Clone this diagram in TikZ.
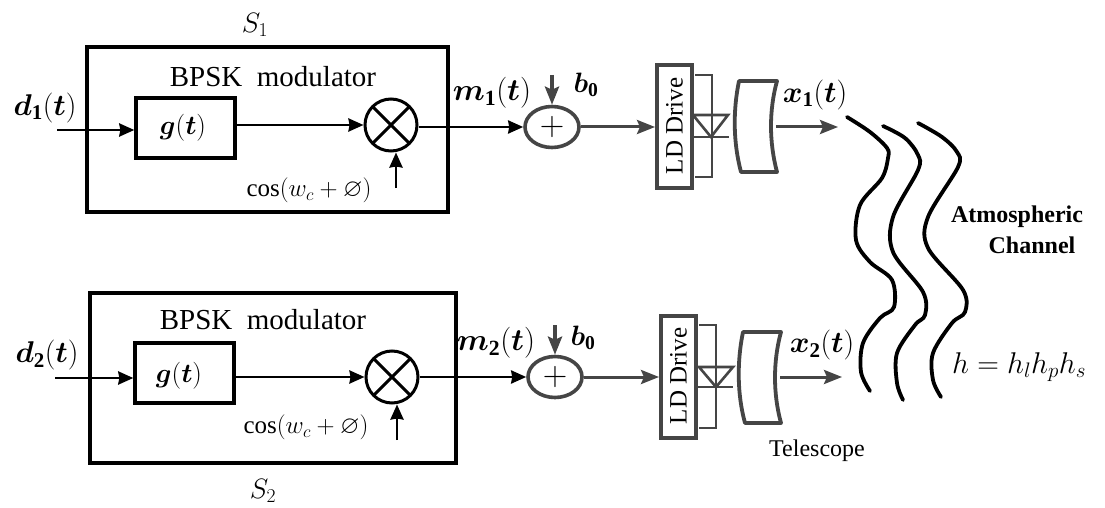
\documentclass[tikz,border=0pt]{standalone}
\usepackage{fix-cm}
\usepackage{amsmath,amssymb}
\usepackage{fontspec}
\setmainfont{Liberation Serif}
\usetikzlibrary{arrows.meta,calc,shapes.geometric}
\newcommand{\sz}[1]{\fontsize{#1}{#1}\selectfont}
\definecolor{dk}{gray}{0.27}
\tikzset{
  x=1pt,y=-1pt,
  tipb/.style={-{Stealth[length=15pt,width=13pt,inset=1pt]}},
  blk/.style={draw=black,line width=2.8pt,tipb},
  gry/.style={draw=dk,line width=3pt,-{Stealth[length=18pt,width=14pt,inset=3pt]}},
  mainbox/.style={draw=black,line width=3.8pt,rectangle,inner sep=0pt},
  gbox/.style={draw=black,line width=3.4pt,rectangle,inner sep=0pt,minimum width=99pt,minimum height=60pt},
  mixer/.style={draw=black,line width=3pt,circle,inner sep=0pt,minimum size=52pt},
  adder/.style={draw=dk,line width=3.6pt,ellipse,inner sep=0pt,minimum width=54pt,minimum height=41pt},
  ldbox/.style={draw=dk,line width=4pt,rectangle,inner sep=0pt,minimum width=35pt,minimum height=122pt},
  lbl/.style={inner sep=0pt,text=black},
  serif/.style={lbl,font=\sz{29}},
  mth/.style={lbl,font=\sz{30}},
  wave/.style={draw=black,line width=3.8pt},
  optic/.style={draw=dk,line width=2.6pt},
  lens/.style={draw=dk,line width=3.8pt,line join=round},
}
\begin{document}
\begin{tikzpicture}
\useasboundingbox (0,0) rectangle (1105,508);
\fill[white] (0,0) rectangle (1105,508);
% --- upper transmitter
\node[mainbox,minimum width=361pt,minimum height=165pt] (boxA) at (267.5,129.5) {};
\node[gbox] (gA) at (185.5,128) {};
\node[mixer] (mA) at (391,125) {};
\draw[black,line width=3pt] ($(mA)+(-18,-18)$) -- ($(mA)+(18,18)$) ($(mA)+(18,-18)$) -- ($(mA)+(-18,18)$);
\node[adder] (aA) at (552,127) {};
\node[lbl,font=\sz{34}] (plusA) at (552,127) {$+$};
\node[ldbox] (ldA) at (674.5,126.5) {};
\node[lbl,font=\sz{25},rotate=90] (ldtA) at (674.5,126) {LD Drive};
\coordinate (inA) at (57,130);
\coordinate (cosA) at (396,188);
\coordinate (bA) at (552,75);
\coordinate (lensA) at (776,127);
\coordinate (outA) at (838,127);
\draw[blk] (inA) -- (inA -| gA.west);
\draw[blk] (gA.east |- mA.west) -- (mA.west);
\draw[blk] (cosA) -- (cosA |- mA.south);
\draw[blk] (mA.east |- 0,127) -- (aA.west);
\draw[gry,line width=4pt] (bA) -- (aA.north);
\draw[gry] (aA.east) -- (ldA.west |- aA.east);
\draw[optic] (695,75) -- (712,75) -- (712,177) -- (695,177);
\draw[optic] (693,115) -- (728,115) -- (711,137) -- cycle;
\draw[optic] (693,137) -- (729,137);
\draw[lens] (739,81) -- (777,81) .. controls (769,110) and (769,142) .. (777,172) -- (741,172) .. controls (733,142) and (733,110) .. cycle;
\draw[gry] (lensA) -- (outA);
% --- lower transmitter
\node[mainbox,minimum width=366pt,minimum height=170pt] (boxB) at (273,378) {};
\node[gbox] (gB) at (184.5,373) {};
\node[mixer] (mB) at (392,377) {};
\draw[black,line width=3pt] ($(mB)+(-18,-18)$) -- ($(mB)+(18,18)$) ($(mB)+(18,-18)$) -- ($(mB)+(-18,18)$);
\node[adder] (aB) at (555,377) {};
\node[lbl,font=\sz{34}] (plusB) at (555,377) {$+$};
\node[ldbox] (ldB) at (678.5,377) {};
\node[lbl,font=\sz{25},rotate=90] (ldtB) at (678.5,376) {LD Drive};
\coordinate (inB) at (55,378);
\coordinate (cosB) at (397,440);
\coordinate (bB) at (555,325);
\coordinate (lensB) at (780,377);
\coordinate (outB) at (842,377);
\draw[blk] (inB) -- (inB -| gB.west);
\draw[blk] (gB.east |- mB.west) -- (mB.west);
\draw[blk] (cosB) -- (cosB |- mB.south);
\draw[blk] (mB.east) -- (aB.west);
\draw[gry,line width=4pt] (bB) -- (aB.north);
\draw[gry] (aB.east) -- (ldB.west |- aB.east);
\draw[optic] (699,325) -- (716,325) -- (716,428) -- (699,428);
\draw[optic] (699,367) -- (733,367) -- (716,387) -- cycle;
\draw[optic] (695,387) -- (733,387);
\draw[lens] (743,332) -- (781,332) .. controls (773,361) and (773,394) .. (781,423) -- (745,423) .. controls (737,394) and (737,361) .. cycle;
\draw[gry] (lensB) -- (outB);
% --- atmospheric channel
\draw[wave,line cap=round] plot[smooth,tension=0.55] coordinates {(847,117) (870,132) (887,148) (888,158) (882,178) (860,205) (856,240) (870,262) (892,280) (894,307) (880,318) (863,343) (861,372) (870,391)};
\draw[wave,line cap=round] plot[smooth,tension=0.55] coordinates {(883,126) (905,138) (918,155) (918,170) (893,217) (893,252) (923,292) (925,315) (915,325) (897,353) (897,383) (903,400)};
\draw[wave,line cap=round] plot[smooth,tension=0.55] coordinates {(918,123) (942,137) (957,152) (958,167) (928,217) (928,248) (963,290) (965,312) (952,323) (933,353) (933,380) (941,397)};
% --- labels
\node[mth,font=\sz{28}] (s1) at (255,25) {$S_1$};
\node[mth,font=\sz{28}] (s2) at (263,491) {$S_2$};
\node[mth] (d1) at (45,108) {$\boldsymbol{d}_{\mathbf 1}(\boldsymbol{t})$};
\node[mth] (d2) at (47,355) {$\boldsymbol{d}_{\mathbf 2}(\boldsymbol{t})$};
\node[serif] (bpskA) at (273,77) {BPSK\ \ modulator};
\node[serif] (bpskB) at (263,320) {BPSK\ \ modulator};
\node[mth,font=\sz{27}] (gtA) at (183,128) {$\boldsymbol{g}(\boldsymbol{t})$};
\node[mth,font=\sz{27}] (gtB) at (179,376) {$\boldsymbol{g}(\boldsymbol{t})$};
\node[mth,font=\sz{25}] (cA) at (309,190) {$\cos(w_c+\varnothing)$};
\node[mth,font=\sz{25}] (cB) at (306,427) {$\cos(w_c+\varnothing)$};
\node[mth,font=\sz{31}] (m1) at (492,93) {$\boldsymbol{m}_{\mathbf 1}(\boldsymbol{t})$};
\node[mth,font=\sz{31}] (m2) at (496,343) {$\boldsymbol{m}_{\mathbf 2}(\boldsymbol{t})$};
\node[mth,font=\sz{28}] (b1) at (586,85) {$\boldsymbol{b}_{\mathbf 0}$};
\node[mth,font=\sz{28}] (b2) at (583,338) {$\boldsymbol{b}_{\mathbf 0}$};
\node[mth] (x1) at (815,95) {$\boldsymbol{x}_{\mathbf 1}(\boldsymbol{t})$};
\node[mth] (x2) at (822,345) {$\boldsymbol{x}_{\mathbf 2}(\boldsymbol{t})$};
\node[lbl,font=\sz{24}] (tel) at (817,451) {Telescope};
\node[lbl,font=\bfseries\sz{24}] (atm) at (1017,217) {Atmospheric};
\node[lbl,font=\bfseries\sz{24}] (chn) at (1032,245) {Channel};
\node[mth] (hh) at (1019,367) {$h=h_lh_ph_s$};
\end{tikzpicture}
\end{document}
